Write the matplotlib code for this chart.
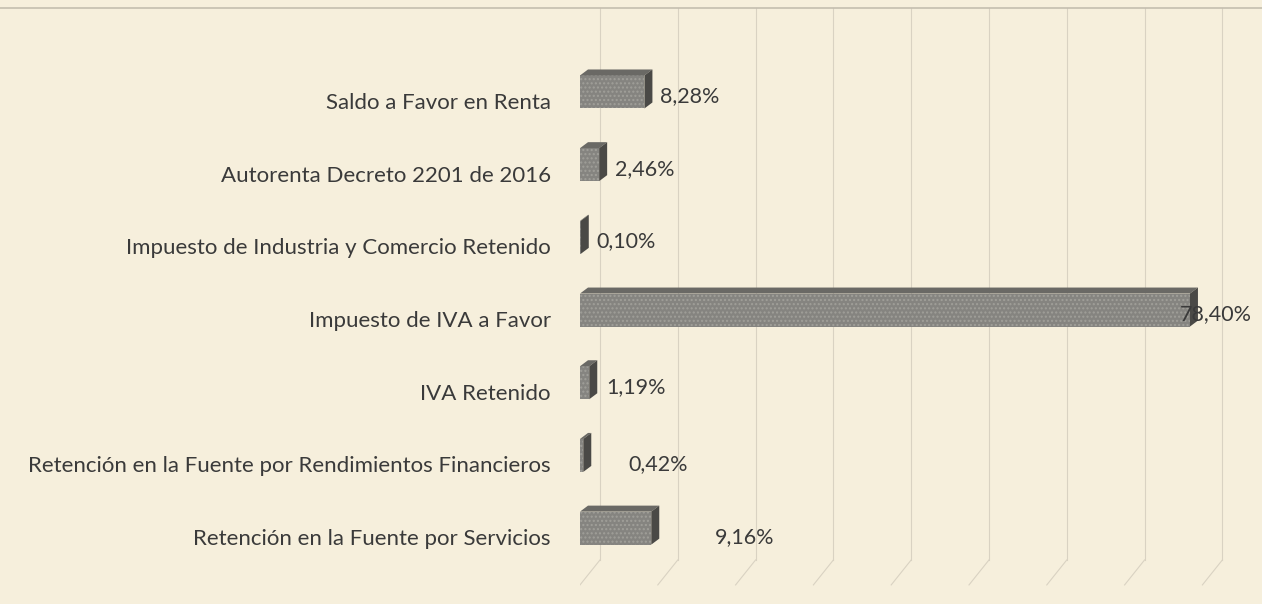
import matplotlib
matplotlib.use("Agg")
import matplotlib.pyplot as plt
from matplotlib.patches import Polygon
from matplotlib.lines import Line2D

categorias = [
    "Saldo a Favor en Renta",
    "Autorenta Decreto 2201 de 2016",
    "Impuesto de Industria y Comercio Retenido",
    "Impuesto de IVA a Favor",
    "IVA Retenido",
    "Retención en la Fuente por Rendimientos Financieros",
    "Retención en la Fuente por Servicios",
]
valores = [8.28, 2.46, 0.10, 78.40, 1.19, 0.42, 9.16]
etiquetas = ["8,28%", "2,46%", "0,10%", "78,40%", "1,19%", "0,42%", "9,16%"]

# desplazamiento de cada etiqueta (pixeles), como en el original
label_dx = [8, 8, 8, -18, 9, 37, 56]
label_dy = [5, 5, 5, 5, 5, 0, 0]

plt.rcParams["font.family"] = ["Lato", "DejaVu Sans"]
fondo = "#f6efdc"
texto = "#3a3a3a"

fig = plt.figure(figsize=(12.62, 6.04), dpi=100, facecolor=fondo)
ax = fig.add_axes([580 / 1262, 0, 682 / 1262, 1])
ax.set_facecolor(fondo)

px_x = 7.78  # pixeles por punto porcentual
ax.set_xlim(0, 682 / px_x)
ax.set_ylim(6.92, -1.389)

# efecto 3D
depth_x = 8 / px_x
depth_y = 6 / 72.7
alto = 0.454
desfase = 9 / 72.7

# rejilla en la pared del fondo + piso
grid_c = "#d9d2c2"
ticks = list(range(0, 90, 10))
shift = 20 / px_x
y_top = (8 - 101) / 72.7
y_back = (560 - 101) / 72.7
y_front = (585 - 101) / 72.7
for t in ticks:
    ax.plot([t + shift, t + shift], [y_top, y_back], color=grid_c, lw=0.8, zorder=0)
    ax.plot([t + shift, t], [y_back, y_front], color=grid_c, lw=0.8, zorder=0)

ys = list(range(len(categorias)))
centros = [y - desfase for y in ys]
ax.barh(centros, valores, height=alto, color="#858480", edgecolor="#a09f99",
        hatch="....", linewidth=0, zorder=3)

for c, v in zip(centros, valores):
    top = c - alto / 2
    bot = c + alto / 2
    cara_sup = Polygon([(0, top), (v, top), (v + depth_x, top - depth_y),
                        (depth_x, top - depth_y)], closed=True,
                       facecolor="#6a6965", edgecolor="none", zorder=3)
    cara_lat = Polygon([(v, top), (v, bot), (v + depth_x, bot - depth_y),
                        (v + depth_x, top - depth_y)], closed=True,
                       facecolor="#4a4946", edgecolor="none", zorder=3)
    ax.add_patch(cara_sup)
    ax.add_patch(cara_lat)

for y, v, lab, dx, dy in zip(ys, valores, etiquetas, label_dx, label_dy):
    ax.annotate(lab, xy=(v + depth_x, y), xytext=(dx, dy),
                textcoords="offset pixels", ha="left", va="center",
                fontsize=15.5, color=texto, zorder=4)

ax.set_yticks(ys)
ax.set_yticklabels(categorias, fontsize=16, color=texto)
ax.tick_params(axis="y", length=0, pad=21)
ax.set_xticks([])
for s in ax.spines.values():
    s.set_visible(False)

fig.add_artist(Line2D([0, 1], [1 - 8 / 604, 1 - 8 / 604], color="#c4beaf",
                      lw=1.2, transform=fig.transFigure))

fig.savefig("out.png", dpi=100, facecolor=fondo)
